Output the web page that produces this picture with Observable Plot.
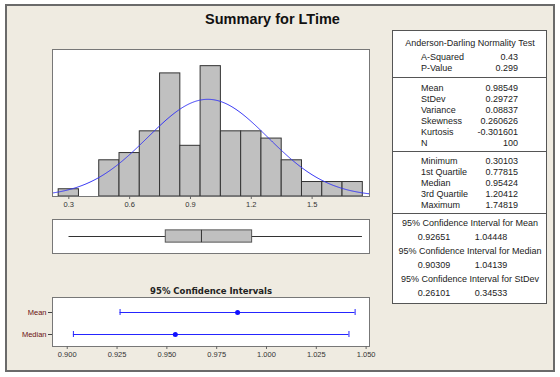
<!DOCTYPE html>
<html>
<head>
<meta charset="utf-8">
<script src="https://cdn.jsdelivr.net/npm/d3@7"></script>
<script src="https://cdn.jsdelivr.net/npm/@observablehq/plot@0.6"></script>
<style>
  html, body { margin: 0; padding: 0; background: white; }
  #root { position: relative; width: 560px; height: 377px; overflow: hidden; font-family: "Liberation Sans", Arial, sans-serif; }
  #outer { position: absolute; left: 5px; top: 4px; width: 546px; height: 364px; border: 2px solid #6a6a6a; background: #EFEBE1; }
  .abs { position: absolute; }
  #title { position: absolute; left: 0; width: 545px; top: 11px; text-align: center; font: bold 14.5px "Liberation Sans", Arial, sans-serif; color: #111; }
  #stats { position: absolute; left: 392px; top: 30px; width: 155px; height: 274px; background: white; border: 1px solid #555; box-sizing: border-box; }
  .t { position: absolute; font-size: 9px; color: #222; white-space: nowrap; line-height: 11px; }
  .div { position: absolute; left: 0; width: 100%; height: 0; border-top: 1px solid #555; }
</style>
</head>
<body>
<div id="root">
  <div id="outer"></div>
  <div id="title">Summary for LTime</div>
  <div id="hist" class="abs"></div>
  <div id="box" class="abs"></div>
  <div id="ci" class="abs"></div>
  <div id="stats"></div>
</div>
<script>
// ---- data ----
const binCenters = [0.3, 0.4, 0.5, 0.6, 0.7, 0.8, 0.9, 1.0, 1.1, 1.2, 1.3, 1.4, 1.5, 1.6, 1.7];
const binCounts  = [1, 0, 5, 6, 9, 17, 7, 18, 9, 9, 8, 5, 2, 2, 2];
const binWidth = 0.1;
const histTicks = [0.3, 0.6, 0.9, 1.2, 1.5];

const adLabels = ["A-Squared", "P-Value"];
const adValues = ["0.43", "0.299"];
const momentLabels = ["Mean", "StDev", "Variance", "Skewness", "Kurtosis", "N"];
const momentValues = ["0.98549", "0.29727", "0.08837", "0.260626", "-0.301601", "100"];
const quantLabels = ["Minimum", "1st Quartile", "Median", "3rd Quartile", "Maximum"];
const quantValues = ["0.30103", "0.77815", "0.95424", "1.20412", "1.74819"];
const ciTitles = ["95% Confidence Interval for Mean", "95% Confidence Interval for Median", "95% Confidence Interval for StDev"];
const ciLow = ["0.92651", "0.90309", "0.26101"];
const ciHigh = ["1.04448", "1.04139", "0.34533"];

const mean = 0.98549, stdev = 0.29727, n = 100;
const fiveNum = {min: 0.30103, q1: 0.77815, median: 0.95424, q3: 1.20412, max: 1.74819};

const ciNames = ["Mean", "Median"];
const ciPoint = [0.98549, 0.95424];
const ciLo = [0.92651, 0.90309];
const ciHi = [1.04448, 1.04139];
const ciTicks = [0.900, 0.925, 0.950, 0.975, 1.000, 1.025, 1.050];

const xDomain = [0.2195, 1.783];
const font = '"Liberation Sans", Arial, sans-serif';

// ---- histogram ----
const bins = binCenters.map((c, i) => ({x1: c - binWidth / 2, x2: c + binWidth / 2, count: binCounts[i]})).filter(d => d.count > 0);
// fitted normal density scaled to counts (from the stated mean & stdev)
const curve = d3.range(xDomain[0], xDomain[1] + 0.001, 0.005).map(x => ({
  x, y: n * binWidth * Math.exp(-0.5 * ((x - mean) / stdev) ** 2) / (stdev * Math.sqrt(2 * Math.PI))
}));

const hist = Plot.plot({
  width: 337, height: 172,
  marginLeft: 10, marginRight: 10, marginTop: 5, marginBottom: 20,
  style: {background: "transparent", fontFamily: font, fontSize: "7.5px", color: "#333"},
  x: {domain: xDomain},
  y: {domain: [0, 20.3], axis: null},
  marks: [
    Plot.frame({fill: "white", stroke: "none"}),
    Plot.rectY(bins, {x1: "x1", x2: "x2", y: "count", fill: "#C0C0C0", stroke: "#333", strokeWidth: 1}),
    Plot.line(curve, {x: "x", y: "y", stroke: "#3535f5", strokeWidth: 1}),
    Plot.frame({stroke: "#777"}),
    Plot.axisX({ticks: histTicks, tickFormat: d3.format(".1f"), tickSize: 3, tickPadding: 2, stroke: "#666", fill: "#333", label: null})
  ]
});
const hd = document.getElementById("hist");
hd.style.left = "42px"; hd.style.top = "44px";
hd.appendChild(hist);

// ---- boxplot ----
const box = Plot.plot({
  width: 337, height: 44,
  marginLeft: 10, marginRight: 10, marginTop: 5, marginBottom: 5,
  style: {background: "transparent", fontFamily: font},
  x: {domain: xDomain, axis: null},
  y: {domain: [0, 1], axis: null},
  marks: [
    Plot.frame({fill: "white", stroke: "#777"}),
    Plot.ruleY([fiveNum], {x1: "min", x2: "max", y: 0.5, stroke: "#333"}),
    Plot.rect([fiveNum], {x1: "q1", x2: "q3", y1: 0.32, y2: 0.68, fill: "#C0C0C0", stroke: "#555"}),
    Plot.ruleX([fiveNum], {x: "median", y1: 0.32, y2: 0.68, stroke: "#333"})
  ]
});
const bd = document.getElementById("box");
bd.style.left = "42px"; bd.style.top = "214px";
bd.appendChild(box);

// ---- confidence intervals ----
const ciData = ciNames.map((name, i) => ({name, point: ciPoint[i], lo: ciLo[i], hi: ciHi[i]}));
const ci = Plot.plot({
  width: 379, height: 81,
  marginLeft: 52, marginRight: 10, marginTop: 17, marginBottom: 15,
  style: {background: "transparent", fontFamily: font, fontSize: "7.5px", color: "#333"},
  x: {domain: [0.8926, 1.0517]},
  y: {type: "band", domain: ciNames, range: [19.6, 65.6], padding: 0},
  marks: [
    Plot.frame({fill: "white", stroke: "#777"}),
    Plot.ruleY(ciData, {y: "name", x1: "lo", x2: "hi", stroke: "#2525ff", strokeWidth: 1}),
    Plot.tickX(ciData, {x: "lo", y: "name", stroke: "#2525ff", insetTop: 8, insetBottom: 8}),
    Plot.tickX(ciData, {x: "hi", y: "name", stroke: "#2525ff", insetTop: 8, insetBottom: 8}),
    Plot.dot(ciData, {x: "point", y: "name", r: 2.5, fill: "#1010ff", stroke: "none"}),
    Plot.axisX({ticks: ciTicks, tickFormat: d3.format(".3f"), tickSize: 3, tickPadding: 2, stroke: "#666", fill: "#333", label: null}),
    Plot.axisY({tickSize: 4, tickPadding: 2, stroke: "#444", fill: "#6a1010", label: null}),
    Plot.text(["95% Confidence Intervals"], {frameAnchor: "top", lineAnchor: "middle", dy: -6, fontWeight: "bold", fontSize: 8.5, fill: "#222", fontFamily: '"DejaVu Sans", sans-serif', letterSpacing: "0.3px"})
  ]
});
const cd = document.getElementById("ci");
cd.style.left = "0px"; cd.style.top = "280px";
cd.appendChild(ci);

// ---- stats table ----
const st = document.getElementById("stats");
const TL = 392, TT = 30;
function txt(s, x, y, align) {
  const e = document.createElement("div");
  e.className = "t";
  e.textContent = s;
  e.style.top = (y - TT - 6.5) + "px";
  if (align === "left") e.style.left = (x - TL - 1) + "px";
  else if (align === "right") { e.style.left = "0px"; e.style.width = (x - TL - 1) + "px"; e.style.textAlign = "right"; }
  else { e.style.left = (x - TL - 1 - 100) + "px"; e.style.width = "200px"; e.style.textAlign = "center"; }
  st.appendChild(e);
}
function hline(y) {
  const e = document.createElement("div");
  e.className = "div";
  e.style.top = (y - TT - 1) + "px";
  st.appendChild(e);
}
const labX = 421, valX = 518;
txt("Anderson-Darling Normality Test", 470, 43, "center");
adLabels.forEach((l, i) => { txt(l, labX, 57 + i * 11, "left"); txt(adValues[i], valX, 57 + i * 11, "right"); });
hline(77);
momentLabels.forEach((l, i) => { txt(l, labX, 88 + i * 11, "left"); txt(momentValues[i], valX, 88 + i * 11, "right"); });
hline(151);
quantLabels.forEach((l, i) => { txt(l, labX, 161 + i * 11, "left"); txt(quantValues[i], valX, 161 + i * 11, "right"); });
hline(213);
ciTitles.forEach((l, i) => {
  const y0 = 223 + i * 28;
  txt(l, 470, y0, "center");
  txt(ciLow[i], 434, y0 + 14, "center");
  txt(ciHigh[i], 491, y0 + 14, "center");
});
</script>
</body>
</html>
